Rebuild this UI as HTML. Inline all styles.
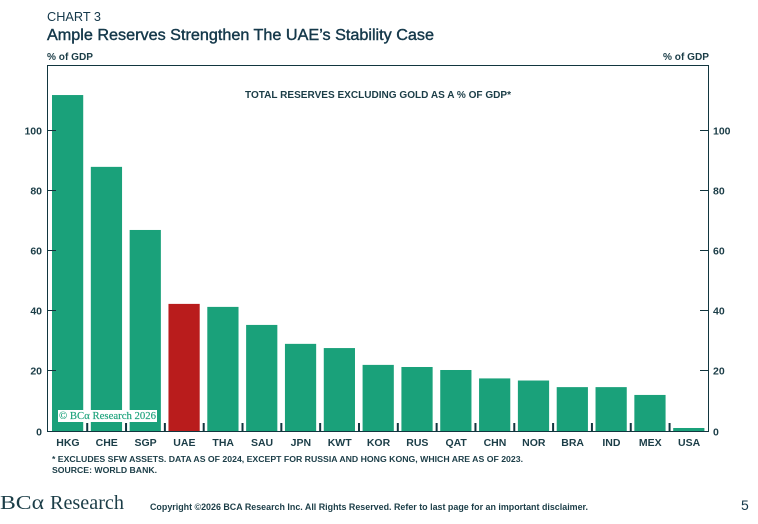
<!DOCTYPE html>
<html lang="en">
<head>
<meta charset="utf-8">
<title>Ample Reserves Strengthen The UAE's Stability Case</title>
<style>
html,body{margin:0;padding:0;background:#fff;}
body{width:758px;height:524px;overflow:hidden;position:relative;}
svg{position:absolute;left:0;top:0;font-family:"Liberation Sans",sans-serif;}
</style>
</head>
<body>
<svg id="chart" width="758" height="524" viewBox="0 0 758 524" xmlns="http://www.w3.org/2000/svg">
  <text x="47" y="21" font-size="13" fill="#14384a" textLength="54" lengthAdjust="spacingAndGlyphs">CHART 3</text>
  <text x="47" y="40" font-size="15.5" font-weight="400" stroke="#14384a" stroke-width="0.4" fill="#14384a" textLength="387" lengthAdjust="spacingAndGlyphs">Ample Reserves Strengthen The UAE’s Stability Case</text>
  <text x="47" y="60" font-size="10.5" font-weight="700" fill="#1b3d47" textLength="46" lengthAdjust="spacingAndGlyphs">% of GDP</text>
  <text x="663" y="60" font-size="10.5" font-weight="700" fill="#1b3d47" textLength="46" lengthAdjust="spacingAndGlyphs">% of GDP</text>
  <text x="378" y="98" text-anchor="middle" font-size="10.5" font-weight="700" fill="#1b3d47" textLength="266" lengthAdjust="spacingAndGlyphs">TOTAL RESERVES EXCLUDING GOLD AS A % OF GDP*</text>
  <g id="bars"></g>
  <rect x="47.5" y="65.5" width="661" height="366" fill="none" stroke="#12363f" stroke-width="1"></rect>
  <g id="axes"></g>
  <g>
    <rect x="58" y="410" width="99" height="12" fill="#fff"></rect>
    <text x="59" y="419" font-family="'Liberation Serif',serif" font-size="10.5" fill="#1aa17a" stroke="#1aa17a" stroke-width="0.15" textLength="97" lengthAdjust="spacingAndGlyphs">© BCα Research 2026</text>
  </g>
  <text x="52" y="462" font-size="8.6" font-weight="700" fill="#1b3d47" textLength="471" lengthAdjust="spacingAndGlyphs">* EXCLUDES SFW ASSETS. DATA AS OF 2024, EXCEPT FOR RUSSIA AND HONG KONG, WHICH ARE AS OF 2023.</text>
  <text x="52" y="473" font-size="8.6" font-weight="700" fill="#1b3d47" textLength="105" lengthAdjust="spacingAndGlyphs">SOURCE: WORLD BANK.</text>
  <g>
    <text x="0" y="509" font-family="'Liberation Serif',serif" font-size="20" fill="#1b3d47" textLength="44" lengthAdjust="spacingAndGlyphs">BCα</text>
    <text x="50" y="509" font-family="'Liberation Serif',serif" font-size="20" fill="#1b3d47" textLength="74" lengthAdjust="spacingAndGlyphs">Research</text>
  </g>
  <text x="150" y="510" font-size="8.8" font-weight="700" fill="#1b3d47" textLength="438" lengthAdjust="spacingAndGlyphs">Copyright ©2026 BCA Research Inc. All Rights Reserved. Refer to last page for an important disclaimer.</text>
  <text x="741" y="510" font-size="14" fill="#14384a">5</text>
</svg>
<script>
const categories = ["HKG","CHE","SGP","UAE","THA","SAU","JPN","KWT","KOR","RUS","QAT","CHN","NOR","BRA","IND","MEX","USA"];
const reserves = [111.8,87.9,66.9,42.3,41.3,35.3,29,27.6,22,21.3,20.3,17.5,16.8,14.6,14.6,12,1];
const highlighted = ["UAE"];
const yTicks = [0,20,40,60,80,100];

const NS = "http://www.w3.org/2000/svg";
const plotLeft = 48, plotRight = 708, plotBottom = 431, pxPerUnit = 3.005;
const slot = (plotRight - plotLeft) / categories.length;
const xAt = i => plotLeft + slot * i;
const yAt = v => plotBottom - v * pxPerUnit;
const barsG = document.getElementById("bars");
const axesG = document.getElementById("axes");
function make(tag, attrs, parent, text) {
  const el = document.createElementNS(NS, tag);
  for (const k in attrs) el.setAttribute(k, attrs[k]);
  if (text !== undefined) el.textContent = text;
  parent.appendChild(el);
  return el;
}
categories.forEach((c, i) => {
  const on = highlighted.includes(c);
  const bar = make("rect", {x: xAt(i) + 4, y: yAt(reserves[i]), width: slot - 7.6, height: plotBottom - yAt(reserves[i]), fill: on ? "#b91c1c" : "#1aa17a"}, barsG);
  
  
  const label = make("text", {x: xAt(i) + slot / 2 + 0.5, y: 446, "text-anchor": "middle", "font-size": 10.5, "font-weight": 700, fill: "#1b3d47"}, axesG, c);
  
  
  if (i > 0) {
    const t = make("rect", {x: xAt(i) - 0.6, y: 423, width: 2, height: 8, fill: "#12363f"}, axesG);
    
    
  }
});
yTicks.forEach(v => {
  const y = Math.floor(yAt(v)) + 0.5;
  const lbl = make("text", {x: 42, y: y + 4, "text-anchor": "end", "font-size": 10.5, "font-weight": 700, fill: "#1b3d47"}, axesG, v);
  
  
  const rl = make("text", {x: 713, y: y + 4, "font-size": 10.5, "font-weight": 700, fill: "#1b3d47"}, axesG, v);
  
  
  if (v > 0) {
    const a = make("line", {x1: 47, x2: 56, y1: y, y2: y, stroke: "#12363f"}, axesG);
    
    
    const b = make("line", {x1: 700, x2: 709, y1: y, y2: y, stroke: "#12363f"}, axesG);
    
    
  }
});
</script>
</body>
</html>
